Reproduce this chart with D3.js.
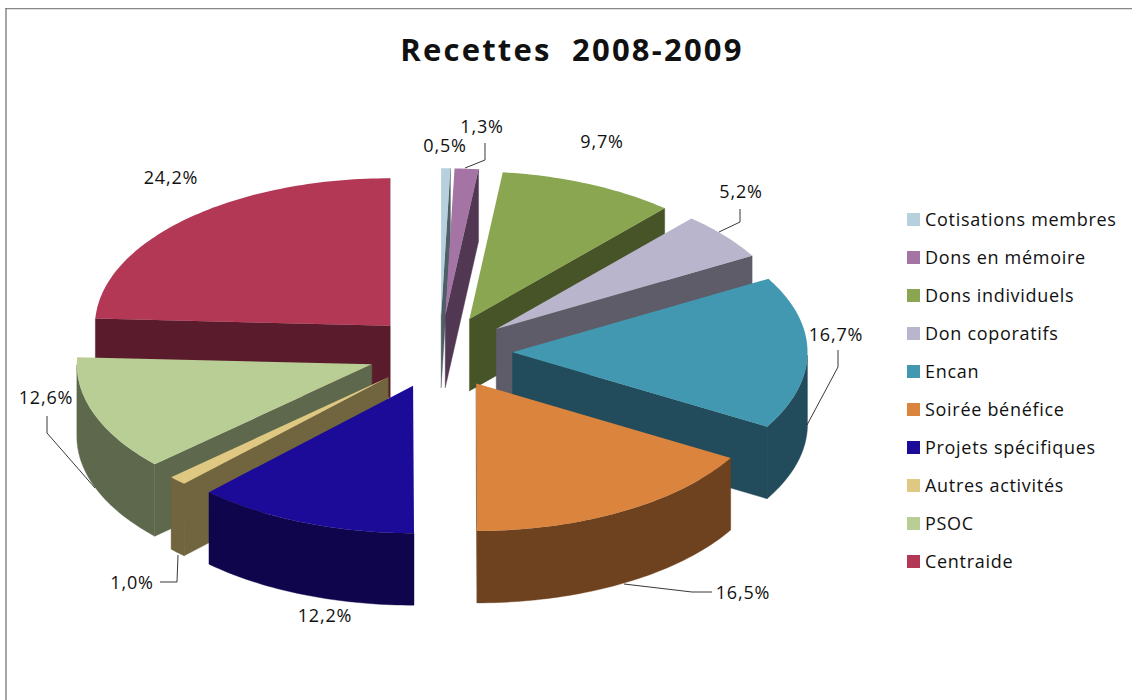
<!DOCTYPE html>
<html>
<head>
<meta charset="utf-8">
<script src="https://cdnjs.cloudflare.com/ajax/libs/d3/7.8.5/d3.min.js"></script>
<style>
html, body { margin: 0; padding: 0; background: #fff; }
svg { display: block; }
text { font-family: "Open Sans", "Noto Sans", sans-serif; fill: #111; }
</style>
</head>
<body>
<svg width="1132" height="700"></svg>
<script>
// data
var categories = ["Cotisations membres", "Dons en mémoire", "Dons individuels", "Don coporatifs", "Encan",
	"Soirée bénéfice", "Projets spécifiques", "Autres activités", "PSOC", "Centraide"];
var values = [0.5, 1.3, 9.7, 5.2, 16.7, 16.5, 12.2, 1.0, 12.6, 24.2];
// colours
var topColors = ["#b7d0de", "#a374a4", "#8ba650", "#b9b5cd", "#4198b0", "#db843d", "#1c0a99", "#dfc882", "#b9ce95", "#b23856"];
var wallColors = ["#4f5f66", "#523752", "#475427", "#5e5c68", "#224c5b", "#6e421e", "#0e054c", "#71653f", "#5e684c", "#5a1c2c"];
// label placement, [x, baseline y], same order as values
var labelPos = [[445, 152], [482, 133], [602, 148], [741, 198], [836, 341], [743, 599], [325, 622], [132, 589], [46, 404], [171, 184]];
// leader lines, only some slices have one
var leaders = [
	[[485, 143], [485, 160], [465, 168]],
	[[740, 209], [740, 222], [719, 232]],
	[[838, 350], [838, 367], [807, 425]],
	[[712, 592], [692, 592], [624, 584]],
	[[47, 416], [47, 433], [95, 488]],
	[[160, 582], [177, 582], [178, 555]]
];

/* pie setting */
var cx = 440, cy = 352;
var radius = 295;
var tilt = 0.5;
var explode = 72.5;
var depth = 72;
var step = 0.02;

var svg = d3.select("svg");

// frame of the pasted picture
svg.append("line")
	.attr("x1", 6).attr("x2", 6).attr("y1", 8).attr("y2", 700)
	.attr("stroke", "#a6a6a6")
	.attr("stroke-width", 2);
svg.append("line")
	.attr("x1", 5).attr("x2", 1132).attr("y1", 8.7).attr("y2", 8.7)
	.attr("stroke", "#888")
	.attr("stroke-width", 1.3);

svg.append("text")
	.attr("x", 572)
	.attr("y", 61)
	.attr("text-anchor", "middle")
	.attr("font-size", 31)
	.attr("font-weight", 700)
	.attr("letter-spacing", 2.2)
	.style("white-space", "pre")
	.text("Recettes  2008-2009");

var pie = d3.pie().sort(null).value(function (d) { return d; });
var slices = pie(values).map(function (s, i) {
	s.index = i;
	s.mid = (s.startAngle + s.endAngle) / 2;
	return s;
});

// angle on the pie -> screen position, z is how far down the side wall
function project(s, r, a, z) {
	return [
		cx + explode * Math.sin(s.mid) + r * Math.sin(a),
		cy - (explode * Math.cos(s.mid) + r * Math.cos(a)) * tilt + z
	];
}
function rimAngles(s) {
	var a = d3.range(s.startAngle, s.endAngle, step);
	a.push(s.endAngle);
	return a;
}

var line = d3.line().curve(d3.curveLinear);

// painter order, back slices first
var order = slices.slice().sort(function (a, b) {
	return d3.descending(Math.cos(a.mid), Math.cos(b.mid));
});

var g = svg.append("g");

order.forEach(function (s) {
	var i = s.index;
	var group = g.append("g").attr("class", "slice");
	var faces = [];

	// two flat walls, start one and end one
	[s.startAngle, s.endAngle].forEach(function (a, k) {
		var pts = [project(s, 0, a, 0), project(s, radius, a, 0), project(s, radius, a, depth), project(s, 0, a, depth)];
		var area = d3.polygonArea(pts);
		if ((k === 0 && area > 0) || (k === 1 && area < 0)) faces.push(pts);
	});

	// outer wall, only the part facing the front
	var front = rimAngles(s).filter(function (a) { return a >= Math.PI * 0.5 && a <= Math.PI * 1.5; });
	if (front.length > 0) {
		var rim = front.map(function (a) { return project(s, radius, a, 0); });
		var low = front.slice().reverse().map(function (a) { return project(s, radius, a, depth); });
		faces.push(rim.concat(low));
	}

	group.selectAll("path.wall")
		.data(faces)
		.enter().append("path")
		.attr("class", "wall")
		.attr("d", function (d) { return line(d) + "Z"; })
		.attr("fill", wallColors[i])
		.attr("stroke", wallColors[i])
		.attr("stroke-width", 0.4);

	var top = [project(s, 0, s.mid, 0)].concat(rimAngles(s).map(function (a) { return project(s, radius, a, 0); }));
	group.append("path")
		.attr("class", "top")
		.attr("d", line(top) + "Z")
		.attr("fill", topColors[i]);
});

// labels
svg.append("g").selectAll("text")
	.data(values)
	.enter().append("text")
	.attr("x", function (d, i) { return labelPos[i][0]; })
	.attr("y", function (d, i) { return labelPos[i][1]; })
	.attr("text-anchor", "middle")
	.attr("font-size", 18)
	.attr("letter-spacing", 0.8)
	.text(function (d) { return d.toFixed(1).replace(".", ",") + "%"; });

svg.append("g").selectAll("path")
	.data(leaders)
	.enter().append("path")
	.attr("d", line)
	.attr("fill", "none")
	.attr("stroke", "#222")
	.attr("stroke-width", 0.9);

// legend
var legendY = d3.scalePoint().domain(categories).range([219, 561]);
var legend = svg.append("g").selectAll("g")
	.data(categories)
	.enter().append("g")
	.attr("transform", function (d) { return "translate(907," + legendY(d) + ")"; });
legend.append("rect")
	.attr("x", 0)
	.attr("y", -6)
	.attr("width", 13)
	.attr("height", 13)
	.attr("fill", function (d, i) { return topColors[i]; });
legend.append("text")
	.attr("x", 18)
	.attr("y", 7)
	.attr("font-size", 18)
	.attr("letter-spacing", 0.7)
	.text(function (d) { return d; });
</script>
</body>
</html>
